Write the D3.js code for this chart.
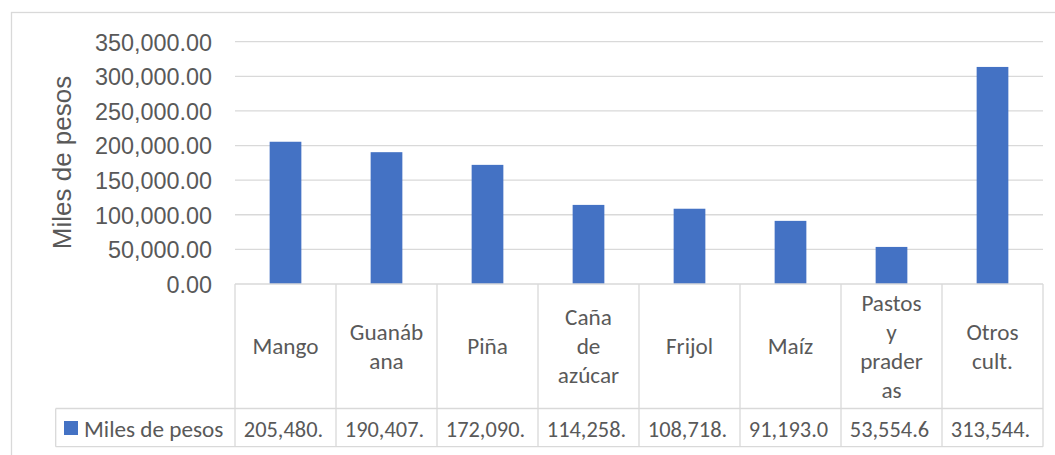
<!DOCTYPE html>
<html><head><meta charset="utf-8">
<script src="https://cdn.jsdelivr.net/npm/d3@7"></script>
<style>body{margin:0;background:#fff}svg{display:block}</style>
</head><body>
<svg id="c" width="1055" height="455"></svg>
<script>
const categories = ["Mango","Guanábana","Piña","Caña de azúcar","Frijol","Maíz","Pastos y praderas","Otros cult."];
const categoryLines = [["Mango"],["Guanáb","ana"],["Piña"],["Caña","de","azúcar"],["Frijol"],["Maíz"],["Pastos","y","prader","as"],["Otros","cult."]];
const values = [205480, 190407, 172090, 114258, 108718, 91193.0, 53554.6, 313544];
const seriesName = "Miles de pesos";
const yTicks = [0,50000,100000,150000,200000,250000,300000,350000];

(function(){
const svg = d3.select("#c");
const grid = "#d9d9d9", textCol = "#595959", barCol = "#4472C4";
const pLeft = 235, pRight = 1043, pTop = 41.7, base = 284, headBottom = 408.5, tableBottom = 446.7, legendLeft = 55.7;

// outer border
svg.append("rect").attr("x",11.5).attr("y",12.5).attr("width",1100).attr("height",500)
  .attr("fill","none").attr("stroke",grid).attr("stroke-width",1.3);

const x = d3.scaleBand().domain(categories).range([pLeft,pRight]).padding(0);
const y = d3.scaleLinear().domain([0,350000]).range([base,pTop]);

// gridlines
svg.append("g").selectAll("line").data(yTicks.filter(d=>d>0)).join("line")
  .attr("x1",pLeft).attr("x2",pRight).attr("y1",d=>y(d)).attr("y2",d=>y(d))
  .attr("stroke",grid).attr("stroke-width",1.3);

// y axis labels
const fmt = d3.format(",.2f");
const yAxis = d3.axisLeft(y).tickValues(yTicks).tickFormat(fmt).tickSize(0).tickPadding(23);
const ya = svg.append("g").attr("transform",`translate(${pLeft},0)`).call(yAxis);
ya.select(".domain").remove();
ya.selectAll("text").attr("fill",textCol).attr("font-family","Liberation Sans, Arial, sans-serif")
  .attr("font-size",23.4).attr("dy","0.36em");

// y title
svg.append("text").attr("transform",`translate(71,162.5) rotate(-90)`).attr("text-anchor","middle")
  .attr("fill",textCol).attr("font-family","Liberation Sans, Arial, sans-serif").attr("font-size",26)
  .text(seriesName);

// bars
const bw = x.bandwidth()*0.314;
svg.append("g").selectAll("rect").data(values).join("rect")
  .attr("x",(d,i)=>x(categories[i])+x.bandwidth()/2-bw/2).attr("width",bw)
  .attr("y",d=>y(d)).attr("height",d=>y(0)-y(d)).attr("fill",barCol);

// table lines
const tl = svg.append("g").attr("stroke",grid).attr("stroke-width",1.3);
tl.append("line").attr("x1",pLeft).attr("x2",pRight).attr("y1",base).attr("y2",base);
tl.append("line").attr("x1",legendLeft).attr("x2",pRight).attr("y1",headBottom).attr("y2",headBottom);
tl.append("line").attr("x1",legendLeft).attr("x2",pRight).attr("y1",tableBottom).attr("y2",tableBottom);
tl.append("line").attr("x1",legendLeft).attr("x2",legendLeft).attr("y1",headBottom).attr("y2",tableBottom);
tl.selectAll("line.v").data(categories.concat(["__end"])).join("line").attr("class","v")
  .attr("x1",(d,i)=>pLeft+i*x.bandwidth()).attr("x2",(d,i)=>pLeft+i*x.bandwidth())
  .attr("y1",base).attr("y2",tableBottom);

// category labels
const calib = "Carlito, Calibri, Lato, sans-serif";
const fs = 23.2, lh = 29;
const cg = svg.append("g").attr("font-family",calib).attr("font-size",fs).attr("fill",textCol).attr("text-anchor","middle");
categoryLines.forEach((lines,i)=>{
  const cx = x(categories[i])+x.bandwidth()/2;
  const mid = (base+headBottom)/2;
  const first = mid - (lines.length-1)*lh/2 + 8;
  lines.forEach((t,j)=>{
    cg.append("text").attr("x",cx).attr("y",first+j*lh).text(t);
  });
});

// values row
const vt = svg.append("g").attr("font-family",calib).attr("font-size",22.4).attr("fill",textCol).attr("text-anchor","middle");
values.forEach((v,i)=>{
  const cx = x(categories[i])+x.bandwidth()/2;
  vt.append("text").attr("x",cx-2).attr("y",437).text(fmt(v).slice(0,8));
});

// legend
svg.append("rect").attr("x",64).attr("y",421).attr("width",14).attr("height",14).attr("fill",barCol);
svg.append("text").attr("x",84).attr("y",437).attr("font-family",calib).attr("font-size",fs).attr("fill",textCol).text(seriesName);
})();
</script>
</body></html>
